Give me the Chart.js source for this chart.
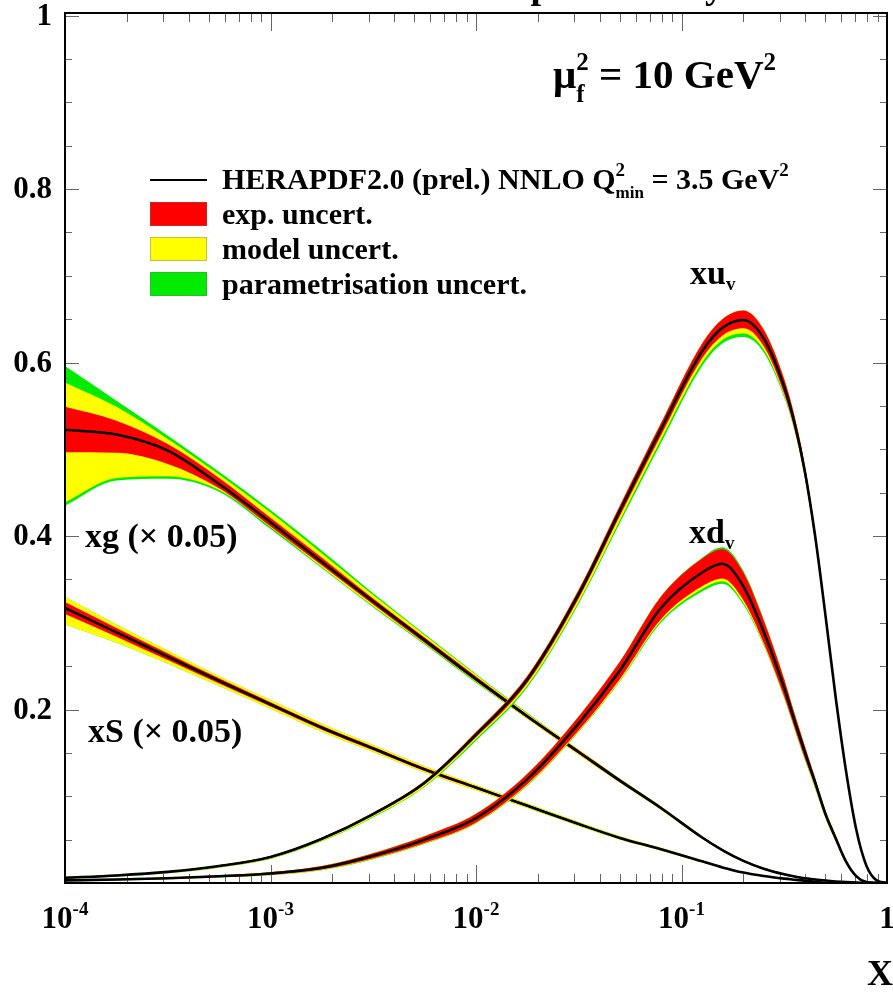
<!DOCTYPE html>
<html>
<head>
<meta charset="utf-8">
<script src="https://cdn.jsdelivr.net/npm/chart.js@4.4.0/dist/chart.umd.min.js"></script>
<style>
  html, body { margin: 0; padding: 0; background: #fff; }
  #wrap { width: 893px; height: 994px; }
</style>
</head>
<body>
<div id="wrap"><canvas id="pdfChart" width="893" height="994"></canvas></div>
<script>
// sample points in x (log spaced)
const xValues = [0.0001, 0.000178, 0.000316, 0.000562, 0.001, 0.00178, 0.00316, 0.00562, 0.01, 0.0178, 0.0316, 0.0501, 0.0794, 0.126, 0.158, 0.2, 0.251, 0.316, 0.355, 0.398, 0.447, 0.501, 0.562, 0.631, 0.708, 0.794, 0.891, 1]

// xu_v
const xuCentral = [0.006, 0.0087, 0.0128, 0.0195, 0.030, 0.051, 0.0795, 0.1156, 0.171, 0.235, 0.333, 0.429, 0.523, 0.613, 0.640, 0.649, 0.628, 0.572, 0.530, 0.475, 0.400, 0.310, 0.215, 0.130, 0.062, 0.020, 0.003, 0]
const xuUp = [0.0008, 0.0008, 0.0008, 0.001, 0.001, 0.0012, 0.0015, 0.002, 0.003, 0.004, 0.005, 0.006, 0.007, 0.009, 0.010, 0.011, 0.010, 0.009, 0.008, 0.007, 0.006, 0.004, 0.003, 0.002, 0.001, 0.0005, 0, 0]
const xuExpDn = [0.0008, 0.0008, 0.0008, 0.001, 0.001, 0.0012, 0.0015, 0.002, 0.003, 0.004, 0.005, 0.006, 0.007, 0.008, 0.009, 0.0095, 0.009, 0.008, 0.007, 0.006, 0.005, 0.004, 0.003, 0.002, 0.001, 0.0005, 0, 0]
const xuModDn = [0.0012, 0.0012, 0.0013, 0.0015, 0.002, 0.0025, 0.003, 0.004, 0.005, 0.007, 0.009, 0.011, 0.012, 0.013, 0.014, 0.0155, 0.013, 0.010, 0.008, 0.007, 0.006, 0.005, 0.004, 0.003, 0.001, 0.0005, 0, 0]
const xuParDn = [0.0015, 0.0015, 0.0016, 0.0018, 0.0024, 0.003, 0.004, 0.005, 0.007, 0.009, 0.011, 0.014, 0.016, 0.017, 0.018, 0.0195, 0.016, 0.012, 0.009, 0.008, 0.007, 0.006, 0.005, 0.003, 0.0015, 0.0005, 0, 0]

// xd_v
const xdCentral = [0.003, 0.004, 0.0055, 0.0078, 0.011, 0.0175, 0.0314, 0.050, 0.0747, 0.120, 0.184, 0.245, 0.317, 0.358, 0.368, 0.342, 0.290, 0.225, 0.187, 0.151, 0.116, 0.08, 0.052, 0.025, 0.008, 0.001, 0, 0]
const xdExp = [0.0006, 0.0007, 0.0008, 0.001, 0.0014, 0.002, 0.003, 0.004, 0.005, 0.006, 0.008, 0.010, 0.013, 0.016, 0.017, 0.016, 0.013, 0.010, 0.008, 0.007, 0.005, 0.004, 0.003, 0.002, 0.001, 0.0003, 0, 0]
const xdModDn = [0.0008, 0.0009, 0.001, 0.0013, 0.0018, 0.0025, 0.0035, 0.0045, 0.0055, 0.007, 0.009, 0.012, 0.015, 0.019, 0.020, 0.019, 0.015, 0.011, 0.009, 0.008, 0.006, 0.0045, 0.0035, 0.0022, 0.0011, 0.0003, 0, 0]
const xdParDn = [0.001, 0.0011, 0.0012, 0.0015, 0.002, 0.0028, 0.004, 0.005, 0.006, 0.008, 0.010, 0.013, 0.017, 0.022, 0.023, 0.021, 0.016, 0.012, 0.010, 0.009, 0.007, 0.005, 0.004, 0.0025, 0.0012, 0.0003, 0, 0]
const xdParUp = [0.0007, 0.0008, 0.0009, 0.0011, 0.0015, 0.0021, 0.0031, 0.0041, 0.0051, 0.0062, 0.0082, 0.0103, 0.0135, 0.017, 0.019, 0.018, 0.014, 0.0105, 0.0085, 0.0073, 0.0052, 0.0041, 0.0031, 0.002, 0.001, 0.0003, 0, 0]

// xg (x 0.05)
const xgCentral = [0.5225, 0.517, 0.4985, 0.460, 0.416, 0.370, 0.3245, 0.280, 0.235, 0.192, 0.151, 0.118, 0.0865, 0.0525, 0.038, 0.0255, 0.0165, 0.010, 0.0075, 0.0055, 0.004, 0.0028, 0.0018, 0.001, 0.0004, 0, 0, 0]
const xgExpDn = [0.026, 0.021, 0.0155, 0.005, 0.005, 0.004, 0.0035, 0.003, 0.002, 0.002, 0.002, 0.0015, 0.0015, 0.001, 0.001, 0.001, 0.001, 0.001, 0.001, 0.001, 0.001, 0.001, 0.0005, 0, 0, 0, 0, 0]
const xgExpUp = [0.0265, 0.016, 0.0075, 0.007, 0.005, 0.005, 0.0035, 0.003, 0.003, 0.002, 0.002, 0.002, 0.0015, 0.001, 0.001, 0.001, 0.001, 0.001, 0.001, 0.001, 0.001, 0.001, 0.0005, 0, 0, 0, 0, 0]
const xgModDn = [0.0835, 0.050, 0.0295, 0.007, 0.006, 0.006, 0.0055, 0.004, 0.003, 0.003, 0.003, 0.002, 0.002, 0.0015, 0.0012, 0.001, 0.001, 0.001, 0.001, 0.001, 0.001, 0.001, 0.0005, 0, 0, 0, 0, 0]
const xgModUp = [0.0545, 0.032, 0.0135, 0.011, 0.011, 0.010, 0.0075, 0.006, 0.005, 0.003, 0.003, 0.002, 0.002, 0.0015, 0.0012, 0.001, 0.001, 0.001, 0.001, 0.001, 0.001, 0.001, 0.0005, 0, 0, 0, 0, 0]
const xgParDn = [0.0875, 0.053, 0.0325, 0.009, 0.008, 0.007, 0.0065, 0.005, 0.004, 0.003, 0.003, 0.002, 0.002, 0.0015, 0.0012, 0.001, 0.001, 0.001, 0.001, 0.001, 0.001, 0.001, 0.0005, 0, 0, 0, 0, 0]
const xgParUp = [0.0735, 0.039, 0.0175, 0.014, 0.014, 0.013, 0.0095, 0.007, 0.006, 0.004, 0.003, 0.0025, 0.002, 0.0015, 0.0012, 0.001, 0.001, 0.001, 0.001, 0.001, 0.001, 0.001, 0.0005, 0, 0, 0, 0, 0]

// xS (x 0.05)
const xsCentral = [0.317, 0.289, 0.261, 0.233, 0.206, 0.179, 0.155, 0.131, 0.110, 0.089, 0.068, 0.052, 0.039, 0.025, 0.018, 0.012, 0.008, 0.005, 0.0038, 0.0027, 0.0018, 0.0011, 0.0006, 0.0002, 0, 0, 0, 0]
const xsExp = [0.007, 0.005, 0.004, 0.003, 0.0025, 0.0022, 0.002, 0.0018, 0.0016, 0.0014, 0.0012, 0.001, 0.0009, 0.0008, 0.0007, 0.0006, 0.0005, 0.0004, 0.0003, 0.0002, 0.0002, 0.0001, 0, 0, 0, 0, 0, 0]
const xsModDn = [0.019, 0.012, 0.008, 0.006, 0.005, 0.0045, 0.004, 0.0035, 0.003, 0.0026, 0.0022, 0.0018, 0.0015, 0.0012, 0.001, 0.0008, 0.0006, 0.0005, 0.0004, 0.0003, 0.0002, 0.0001, 0, 0, 0, 0, 0, 0]
const xsModUp = [0.013, 0.009, 0.007, 0.0055, 0.005, 0.0045, 0.004, 0.0035, 0.003, 0.0026, 0.0022, 0.0018, 0.0015, 0.0012, 0.001, 0.0008, 0.0006, 0.0005, 0.0004, 0.0003, 0.0002, 0.0001, 0, 0, 0, 0, 0, 0]

// axis tick labels
const xTickValues = [0.0001, 0.001, 0.01, 0.1, 1]
const xTickExps = ['-4', '-3', '-2', '-1', '']
const yTickValues = [0.2, 0.4, 0.6, 0.8, 1]
const yTickLabels = ['0.2', '0.4', '0.6', '0.8', '1']

const RED = 'rgb(255,0,0)'
const YELLOW = 'rgb(255,255,0)'
const GREEN = 'rgb(0,235,0)'
const SERIF = "'Liberation Serif', 'DejaVu Serif', serif"

const pts = (c, d, sign) => xValues.map((x, i) => ({ x: x, y: Math.max(0, c[i] + sign * (d ? d[i] : 0)) }))

const lineBase = {
    pointRadius: 0,
    cubicInterpolationMode: 'monotone',
    borderWidth: 0,
    fill: false,
}

// one pdf -> green, yellow, red bands and the central line (bottom to top)
function pdfDatasets(c, parDn, parUp, modDn, modUp, expDn, expUp) {
    const band = (dn, up, color) => [
        { ...lineBase, data: pts(c, dn, -1) },
        { ...lineBase, data: pts(c, up, 1), fill: '-1', backgroundColor: color },
    ]
    return [
        ...band(parDn, parUp, GREEN),
        ...band(modDn, modUp, YELLOW),
        ...band(expDn, expUp, RED),
        { ...lineBase, data: pts(c, null, 0), borderColor: '#000', borderWidth: 2.6 },
    ]
}

const datasets = [
    ...pdfDatasets(xsCentral, xsModDn, xsModUp, xsModDn, xsModUp, xsExp, xsExp),
    ...pdfDatasets(xgCentral, xgParDn, xgParUp, xgModDn, xgModUp, xgExpDn, xgExpUp),
    ...pdfDatasets(xdCentral, xdParDn, xdParUp, xdModDn, xdExp, xdExp, xdExp),
    ...pdfDatasets(xuCentral, xuParDn, xuUp, xuModDn, xuUp, xuExpDn, xuUp),
]
datasets.forEach((d, i) => { d.order = datasets.length - i })

// text with super/subscripts, drawn left to right
function drawParts(ctx, x, y, parts) {
    let cx = x
    parts.forEach(p => {
        if (p.sup !== undefined) {
            ctx.font = `bold ${p.size}px ${SERIF}`
            const w1 = ctx.measureText(p.sup).width
            ctx.fillText(p.sup, cx, y - p.up)
            ctx.font = `bold ${p.subSize || p.size}px ${SERIF}`
            const w2 = ctx.measureText(p.sub).width
            ctx.fillText(p.sub, cx, y + p.down)
            cx += Math.max(w1, w2)
        } else {
            ctx.font = `bold ${p.size}px ${SERIF}`
            ctx.fillText(p.t, cx, y + (p.dy || 0))
            cx += ctx.measureText(p.t).width
        }
    })
    return cx - x
}

const framePlugin = {
    id: 'rootFrame',
    beforeDatasetsDraw(chart) {
        const { ctx, chartArea: a, scales } = chart
        ctx.save()
        ctx.strokeStyle = '#666'
        ctx.lineWidth = 1
        ctx.beginPath()
        for (let d = -4; d < 0; d++) {
            for (let m = 1; m <= 9; m++) {
                const px = Math.round(scales.x.getPixelForValue(m * Math.pow(10, d))) + 0.5
                const len = m === 1 ? 18 : 9
                ctx.moveTo(px, a.bottom); ctx.lineTo(px, a.bottom - len)
                ctx.moveTo(px, a.top); ctx.lineTo(px, a.top + len)
            }
        }
        for (let k = 0; k <= 20; k++) {
            const py = Math.round(scales.y.getPixelForValue(k * 0.05)) + 0.5
            const len = k % 4 === 0 ? 14 : 7
            ctx.moveTo(a.left, py); ctx.lineTo(a.left + len, py)
            ctx.moveTo(a.right, py); ctx.lineTo(a.right - len, py)
        }
        ctx.stroke()
        ctx.restore()
    },
    afterDraw(chart) {
        const { ctx, chartArea: a, scales } = chart
        ctx.save()
        ctx.strokeStyle = '#000'
        ctx.lineWidth = 2
        ctx.strokeRect(a.left, a.top, a.right - a.left, a.bottom - a.top)

        ctx.fillStyle = '#000'
        ctx.textBaseline = 'alphabetic'

        // cut-off title at the very top
        drawParts(ctx, 293, -2, [{ t: 'H1 and ZEUS preliminary', size: 38 }])

        // y tick labels
        ctx.textAlign = 'right'
        ctx.textBaseline = 'middle'
        ctx.font = `bold 31px ${SERIF}`
        yTickValues.forEach((v, i) => {
            ctx.fillText(yTickLabels[i], 52, scales.y.getPixelForValue(v) + 1)
        })

        // x tick labels (10^n)
        ctx.textAlign = 'left'
        ctx.textBaseline = 'alphabetic'
        xTickValues.forEach((v, i) => {
            const px = scales.x.getPixelForValue(v)
            const parts = xTickExps[i] ? [{ t: '10', size: 31 }, { t: xTickExps[i], size: 19, dy: -13 }] : [{ t: '1', size: 31 }]
            ctx.save()
            ctx.globalAlpha = 0
            const w = drawParts(ctx, 0, 0, parts)
            ctx.restore()
            drawParts(ctx, px - w / 2, 928, parts)
        })

        // axis title
        drawParts(ctx, 867, 985, [{ t: 'X', size: 36 }])

        // scale
        drawParts(ctx, 553, 88, [
            { t: '\u03bc', size: 41 },
            { sup: '2', sub: 'f', size: 25, up: 18, down: 14 },
            { t: ' = 10 GeV', size: 41 },
            { t: '2', size: 25, dy: -18 },
        ])

        // legend
        ctx.strokeStyle = '#000'
        ctx.lineWidth = 2
        ctx.beginPath(); ctx.moveTo(150, 180); ctx.lineTo(207, 180); ctx.stroke()
        const boxes = [[RED, 202, 'rgb(200,40,40)'], [YELLOW, 237, 'rgb(200,190,60)'], [GREEN, 272, 'rgb(40,190,40)']]
        ctx.lineWidth = 1
        boxes.forEach(b => {
            ctx.fillStyle = b[0]
            ctx.fillRect(150, b[1], 57, 24)
            ctx.strokeStyle = b[2]
            ctx.strokeRect(150.5, b[1] + 0.5, 56, 23)
        })
        ctx.fillStyle = '#000'
        drawParts(ctx, 222, 189, [
            { t: 'HERAPDF2.0 (prel.) NNLO Q', size: 30 },
            { sup: '2', sub: 'min', size: 19, subSize: 17, up: 13, down: 9 },
            { t: ' = 3.5 GeV', size: 30 },
            { t: '2', size: 19, dy: -13 },
        ])
        drawParts(ctx, 222, 224, [{ t: 'exp. uncert.', size: 30 }])
        drawParts(ctx, 222, 259, [{ t: 'model uncert.', size: 30 }])
        drawParts(ctx, 222, 294, [{ t: 'parametrisation uncert.', size: 30 }])

        // curve labels
        drawParts(ctx, 690, 284, [{ t: 'xu', size: 34 }, { t: 'v', size: 19, dy: 6 }])
        drawParts(ctx, 689, 543, [{ t: 'xd', size: 34 }, { t: 'v', size: 19, dy: 6 }])
        drawParts(ctx, 85, 547, [{ t: 'xg (\u00d7 0.05)', size: 34 }])
        drawParts(ctx, 88, 742, [{ t: 'xS (\u00d7 0.05)', size: 34 }])
        ctx.restore()
    },
}

new Chart(document.getElementById('pdfChart').getContext('2d'), {
    type: 'line',
    data: { datasets: datasets },
    options: {
        responsive: false,
        animation: false,
        events: [],
        devicePixelRatio: 1,
        layout: { padding: { left: 65, right: 6, top: 13, bottom: 111 } },
        plugins: {
            legend: { display: false },
            tooltip: { enabled: false },
        },
        scales: {
            x: { type: 'logarithmic', min: 0.0001, max: 1, display: false },
            y: { type: 'linear', min: 0, max: 1.003, display: false },
        },
    },
    plugins: [framePlugin],
})
</script>
</body>
</html>
